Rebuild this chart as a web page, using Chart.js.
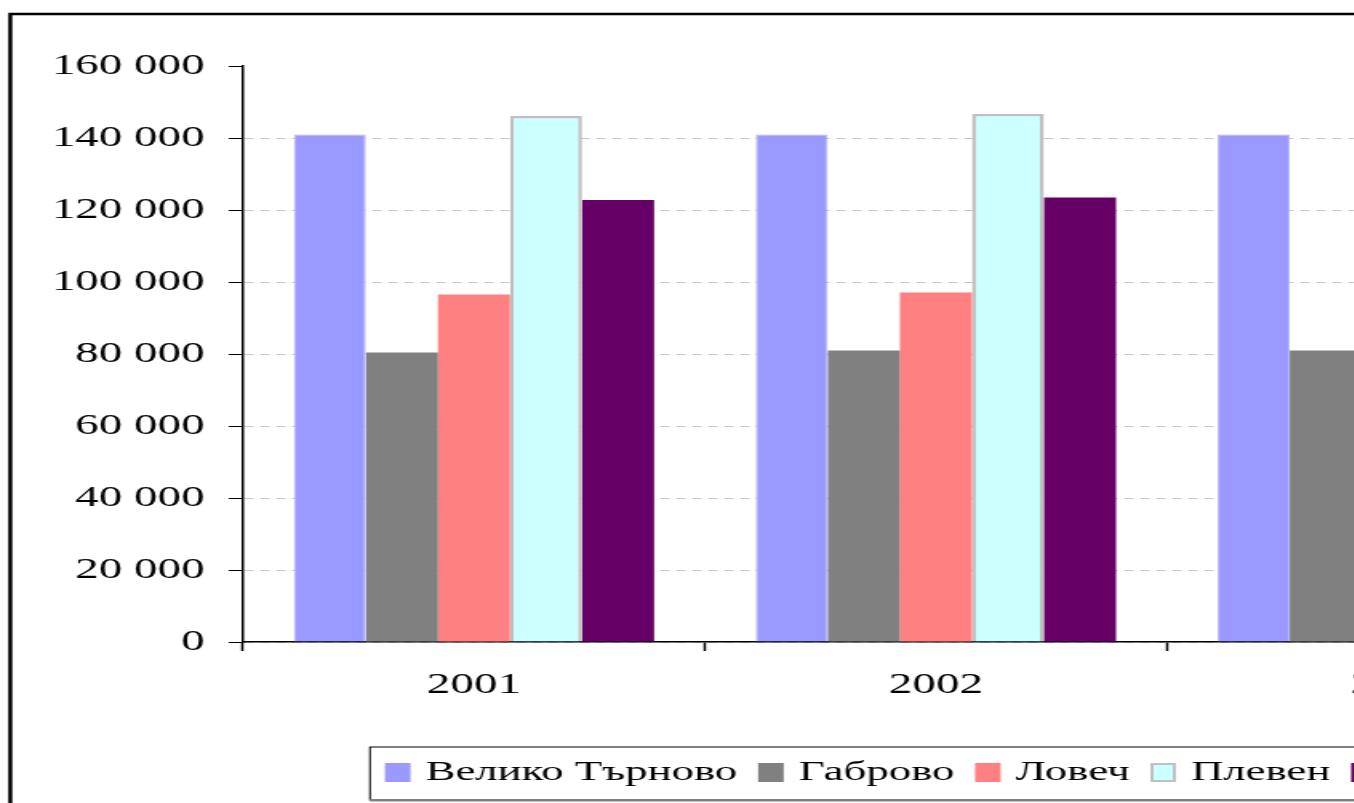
<!DOCTYPE html>
<html>
<head>
<meta charset="utf-8">
<script src="https://cdn.jsdelivr.net/npm/chart.js@4"></script>
<style>
  html, body { margin: 0; padding: 0; overflow: hidden; background: #fff; }
  /* the original picture is stretched horizontally, so the whole chart is */
  #wrap {
    position: absolute; left: 0; top: 0;
    width: 1100px; height: 803px;
    transform: scaleX(1.6); transform-origin: 0 0;
  }
</style>
</head>
<body>
<div id="wrap"><canvas id="chart" width="1100" height="803"></canvas></div>
<script>
// Годините (категории)
const years = ["2001", "2002", "2003"];

// Области
const regions = ["Велико Търново", "Габрово", "Ловеч", "Плевен", "Русе"];

// Стойности по области (2003 за Ловеч, Плевен, Русе са извън кадъра - приблизителни)
const velikoTarnovo = [141000, 141000, 141000];
const gabrovo = [80400, 81000, 81000];
const lovech = [96500, 97100, 97500];
const pleven = [146100, 146700, 147000];
const ruse = [122800, 123500, 124000];

// Ос Y
const yMin = 0;
const yMax = 160000;
const yStep = 20000;

const colors = ["#9999ff", "#808080", "#ff8080", "#ccffff", "#660066"];
const borders = ["#b3b3ff", "#808080", "#ff8080", "#c0c0c0", "#660066"];
const borderWidths = [1, 0, 0, 2.5, 0];

const FONT = "'Liberation Serif', 'Times New Roman', serif";
const FONT_SIZE = 29.4;
const LEGEND_FONT_SIZE = 28;

// 160000 -> "160 000"
function formatNumber(v) {
  return String(v).replace(/\B(?=(\d{3})+(?!\d))/g, " ");
}

// Рамка около цялата диаграма
const framePlugin = {
  id: "frame",
  afterDraw(chart) {
    const ctx = chart.ctx;
    ctx.save();
    ctx.lineWidth = 2.5;
    ctx.strokeStyle = "#000";
    ctx.strokeRect(6.45, 14, 3000, 3000);
    ctx.restore();
  },
};

// Легенда в рамка, както в оригинала
const legendPlugin = {
  id: "boxLegend",
  afterDraw(chart) {
    const ctx = chart.ctx;
    const boxLeft = 231.25;
    const boxTop = 747;
    const boxBottom = 800;
    const midY = 772.5;
    ctx.save();
    ctx.font = LEGEND_FONT_SIZE + "px " + FONT;
    ctx.textBaseline = "middle";
    ctx.textAlign = "left";

    let x = 240.6;
    chart.data.datasets.forEach((ds, i) => {
      ctx.fillStyle = ds.backgroundColor;
      ctx.fillRect(x, midY - 9.5, 16, 19);
      if (i === 3) {
        ctx.lineWidth = 2;
        ctx.strokeStyle = "#c0c0c0";
        ctx.strokeRect(x + 1, midY - 8.5, 14, 17);
      }
      const textX = x + 16 + 9.4;
      ctx.fillStyle = "#000";
      ctx.fillText(ds.label, textX, midY);
      x = textX + ctx.measureText(ds.label).width + 13;
    });
    const boxRight = x + 3;

    ctx.lineWidth = 1;
    ctx.strokeStyle = "#000";
    ctx.strokeRect(boxLeft, boxTop, boxRight - boxLeft, boxBottom - boxTop);
    ctx.fillStyle = "#808080";
    ctx.fillRect(boxLeft, boxBottom - 1, boxRight - boxLeft + 2, 2.5);
    ctx.restore();
  },
};

const seriesValues = [velikoTarnovo, gabrovo, lovech, pleven, ruse];

const ctx = document.getElementById("chart").getContext("2d");
const chart = new Chart(ctx, {
  type: "bar",
  data: {
    labels: years,
    datasets: regions.map((name, i) => ({
      label: name,
      data: seriesValues[i],
      backgroundColor: colors[i],
      borderColor: borders[i],
      borderWidth: borderWidths[i],
      borderSkipped: "bottom",
      barPercentage: 1,
      categoryPercentage: 0.78,
    })),
  },
  options: {
    responsive: false,
    animation: false,
    layout: {
      padding: { left: 0, top: 66, right: 82, bottom: 91 },
    },
    plugins: {
      legend: { display: false },
      tooltip: { enabled: false },
    },
    scales: {
      x: {
        grid: {
          offset: true,
          drawOnChartArea: false,
          drawTicks: true,
          tickLength: 9,
          tickColor: "#000",
          tickWidth: 1.5,
        },
        border: { display: true, color: "#000", width: 1.5 },
        ticks: {
          color: "#000",
          font: { family: FONT, size: FONT_SIZE },
          padding: 17,
          maxRotation: 0,
        },
        afterFit(scale) {
          scale.height = 70;
        },
      },
      y: {
        min: yMin,
        max: yMax,
        grid: {
          // no dashed line at the top value, only the tick mark
          color: (c) => (c.tick && c.tick.value === yMax ? "rgba(0,0,0,0)" : "#c8c8c8"),
          lineWidth: 1,
          drawTicks: true,
          tickLength: 9,
          tickColor: "#000",
          tickWidth: 1,
        },
        border: { display: true, color: "#000", width: 1.5, dash: [6, 4] },
        ticks: {
          stepSize: yStep,
          color: "#000",
          font: { family: FONT, size: FONT_SIZE },
          padding: 15,
          callback: (v) => formatNumber(v),
        },
        afterFit(scale) {
          scale.width = 151.9;
        },
      },
    },
  },
  plugins: [framePlugin, legendPlugin],
});
</script>
</body>
</html>
